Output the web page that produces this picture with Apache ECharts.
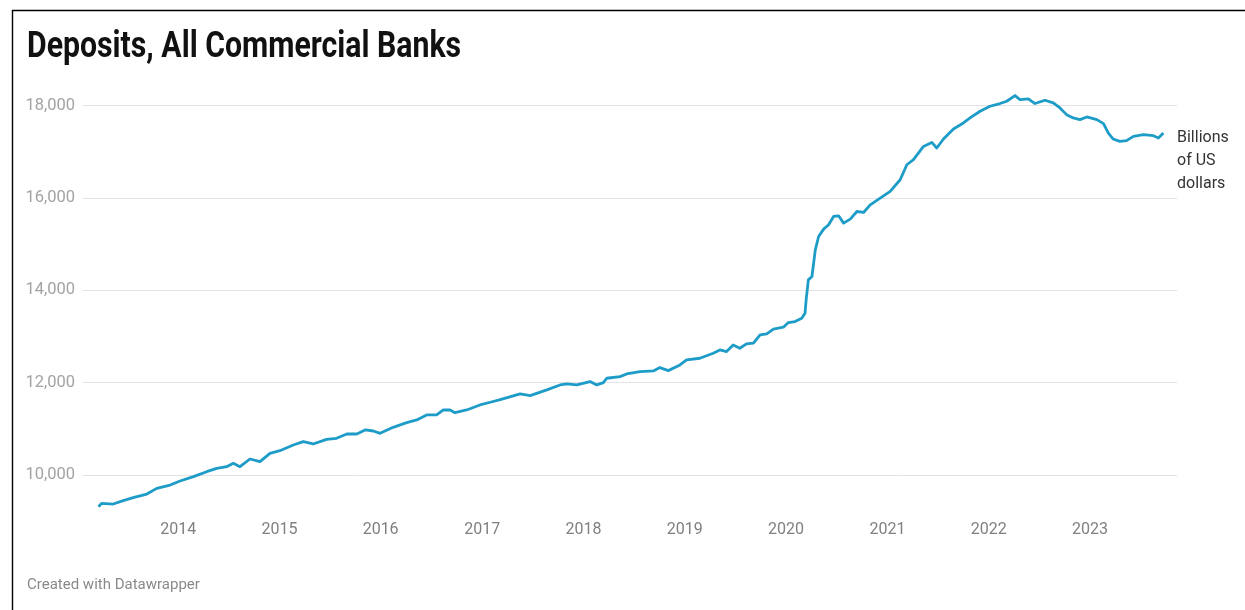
<!DOCTYPE html>
<html>
<head>
<meta charset="utf-8">
<script src="https://cdn.jsdelivr.net/npm/echarts@6/dist/echarts.min.js"></script>
<style>
  html, body { margin: 0; padding: 0; background: #fff; }
  #chart { width: 1245px; height: 610px; }
</style>
</head>
<body>
<div id="chart"></div>
<script>
// Deposits, all commercial banks (billions of US dollars), sampled from the weekly series
const dates = [
  '2013-03-20','2013-03-31','2013-05-12','2013-06-17','2013-07-23','2013-09-10','2013-10-16','2013-12-03',
  '2014-01-08','2014-02-25','2014-04-14','2014-05-20','2014-06-25','2014-07-19','2014-08-12','2014-09-17','2014-10-23','2014-11-28',
  '2015-01-03','2015-02-20','2015-03-28','2015-05-03','2015-06-20','2015-07-26','2015-09-01','2015-10-07','2015-11-06','2015-12-06','2015-12-30',
  '2016-02-15','2016-04-04','2016-05-10','2016-06-15','2016-07-21','2016-08-14','2016-09-07','2016-09-25','2016-11-06','2016-12-24',
  '2017-01-30','2017-03-04','2017-05-18','2017-06-23','2017-08-22','2017-10-09','2017-11-02','2017-12-08',
  '2018-01-25','2018-02-18','2018-03-14','2018-03-26','2018-05-13','2018-06-06','2018-07-24','2018-09-10','2018-10-04','2018-11-03','2018-12-15',
  '2019-01-08','2019-02-25','2019-04-14','2019-05-08','2019-06-01','2019-06-25','2019-07-19','2019-08-12','2019-09-06','2019-09-30','2019-10-24','2019-11-17','2019-12-23',
  '2020-01-10','2020-02-03','2020-02-27','2020-03-10','2020-03-14','2020-03-22','2020-04-04','2020-04-16','2020-04-28','2020-05-16','2020-06-03','2020-06-21',
  '2020-07-09','2020-07-27','2020-08-20','2020-09-13','2020-10-07','2020-10-31','2020-12-06',
  '2021-01-11','2021-02-16','2021-03-12','2021-04-05','2021-05-11','2021-06-10','2021-06-28','2021-07-22','2021-08-27','2021-10-02','2021-10-26','2021-12-01',
  '2022-01-06','2022-02-11','2022-03-07','2022-04-06','2022-04-24','2022-05-24','2022-06-17','2022-07-23','2022-08-22','2022-09-15','2022-10-09','2022-11-02','2022-11-26','2022-12-21',
  '2023-01-26','2023-02-19','2023-03-08','2023-03-26','2023-04-19','2023-05-13','2023-06-07','2023-07-13','2023-08-18','2023-09-05','2023-09-23'
];

const deposits = [
  9313, 9386, 9372, 9444, 9509, 9588, 9711, 9783,
  9870, 9964, 10072, 10145, 10180, 10253, 10180, 10347, 10289, 10470,
  10527, 10650, 10722, 10672, 10773, 10795, 10888, 10888, 10975, 10953, 10903,
  11033, 11133, 11192, 11300, 11300, 11408, 11408, 11350, 11408, 11517,
  11575, 11625, 11755, 11718, 11842, 11950, 11972, 11950,
  12022, 11950, 12000, 12095, 12131, 12188, 12239, 12253, 12325, 12260, 12383,
  12492, 12528, 12636, 12709, 12672, 12817, 12745, 12838, 12853, 13033, 13055, 13157, 13200,
  13300, 13322, 13395, 13503, 13792, 14225, 14297, 14875, 15164, 15324, 15417, 15597,
  15612, 15453, 15540, 15705, 15684, 15850, 15994,
  16139, 16392, 16717, 16826, 17114, 17201, 17079, 17274, 17491, 17621, 17730, 17875,
  17983, 18042, 18092, 18215, 18128, 18143, 18042, 18114, 18056, 17947, 17802, 17730, 17694, 17752,
  17694, 17607, 17405, 17274, 17223, 17238, 17331, 17367, 17346, 17296, 17405
];

const yTicks = [10000, 12000, 14000, 16000, 18000];

const chart = echarts.init(document.getElementById('chart'), null, { renderer: 'canvas' });

chart.setOption({
  animation: false,
  backgroundColor: '#ffffff',
  grid: { left: 83, right: 68, top: 13.1, bottom: 42.6, containLabel: false },
  xAxis: {
    type: 'time',
    min: '2013-01-23',
    max: '2023-11-11',
    offset: -47,
    minInterval: 365 * 24 * 3600 * 1000,
    maxInterval: 366 * 24 * 3600 * 1000,
    axisLine: { show: false },
    axisTick: { show: false },
    splitLine: { show: false },
    axisLabel: {
      formatter: '{yyyy}',
      color: '#808080',
      fontFamily: 'Roboto',
      fontSize: 16,
      margin: 2,
      hideOverlap: false
    }
  },
  yAxis: {
    type: 'value',
    min: 8000,
    max: 20000,
    interval: 2000,
    axisLine: { show: false },
    axisTick: { show: false },
    splitLine: {
      show: true,
      showMinLine: false,
      showMaxLine: false,
      lineStyle: { color: '#e3e3e3', width: 1 }
    },
    axisLabel: {
      showMinLabel: false,
      showMaxLabel: false,
      color: '#a3a3a3',
      fontFamily: 'Roboto',
      fontSize: 16.5,
      margin: 8,
      formatter: v => yTicks.includes(v) ? v.toLocaleString('en-US') : ''
    }
  },
  series: [{
    type: 'line',
    data: dates.map((d, i) => [d, deposits[i]]),
    showSymbol: false,
    smooth: false,
    lineStyle: { color: '#1d9cc8', width: 2.8, join: 'round' },
    itemStyle: { color: '#1d9cc8' }
  }],
  graphic: [
    { type: 'line', shape: { x1: 12, y1: 10.5, x2: 1245, y2: 10.5 }, style: { stroke: '#000', lineWidth: 1.4 } },
    { type: 'line', shape: { x1: 12.5, y1: 10, x2: 12.5, y2: 610 }, style: { stroke: '#000', lineWidth: 1.4 } },
    {
      type: 'text', x: 27, y: 48, scaleX: 0.84,
      style: {
        text: 'Deposits, All Commercial Banks',
        font: 'bold 36px Roboto',
        fill: '#111111',
        textVerticalAlign: 'middle'
      }
    },
    {
      type: 'text', x: 1177, y: 126,
      style: {
        text: 'Billions\nof US\ndollars',
        font: '16px Roboto',
        fill: '#333333',
        lineHeight: 23,
        textVerticalAlign: 'top'
      }
    },
    {
      type: 'text', x: 27, y: 585,
      style: {
        text: 'Created with Datawrapper',
        font: '15px Roboto',
        fill: '#8a8a8a',
        textVerticalAlign: 'middle'
      }
    }
  ]
});
</script>
</body>
</html>
